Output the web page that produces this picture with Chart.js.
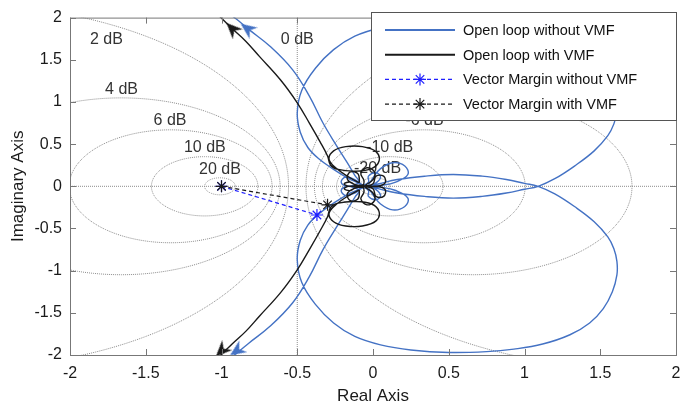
<!DOCTYPE html>
<html>
<head>
<meta charset="utf-8">
<script src="https://cdn.jsdelivr.net/npm/chart.js@4.4.1/dist/chart.umd.min.js"></script>
<style>
  html, body { margin: 0; padding: 0; background: #fff; }
  #wrap { width: 694px; height: 408px; }
</style>
</head>
<body>
<div id="wrap"><canvas id="nyq" width="694" height="408"></canvas></div>
<script>
// Open loop without VMF, one frequency half (the other half is its mirror image)
const noVmfRe = [-0.99, -0.90, -0.82, -0.68, -0.53, -0.42, -0.33, -0.24, -0.17, -0.12, -0.09,
  -0.12, -0.17, -0.21, -0.18, -0.12, -0.07,
  -0.03, -0.03, 0.02, 0.05, 0.02, -0.03,
  0.00, 0.05, 0.13, 0.21, 0.23, 0.15, 0.05, -0.03,
  0.04, 0.16, 0.34, 0.53, 0.72, 0.88, 1.00, 1.09, 1.20, 1.33, 1.46, 1.55, 1.59, 1.61, 1.61, 1.58, 1.52, 1.43, 1.30, 1.12, 0.93, 0.75, 0.50, 0.25, 0.05,
  -0.12, -0.26, -0.38, -0.47, -0.50, -0.48, -0.43, -0.36, -0.26, -0.16, -0.08];
const noVmfIm = [2.10, 1.98, 1.86, 1.66, 1.38, 1.07, 0.75, 0.48, 0.28, 0.13, 0.05,
  0.02, 0.00, 0.05, 0.11, 0.08, 0.02,
  0.05, 0.12, 0.16, 0.11, 0.04, 0.00,
  0.10, 0.21, 0.28, 0.24, 0.14, 0.05, 0.01, 0.00,
  -0.03, -0.08, -0.12, -0.14, -0.12, -0.08, -0.035, 0.00, 0.09, 0.24, 0.42, 0.60, 0.74, 0.89, 1.05, 1.25, 1.45, 1.62, 1.76, 1.87, 1.93, 1.96, 1.97, 1.94, 1.88,
  1.78, 1.62, 1.40, 1.14, 0.87, 0.64, 0.46, 0.33, 0.20, 0.09, 0.02];

// Open loop with VMF, same half
const vmfRe = [-1.06, -0.93, -0.84, -0.75, -0.61, -0.50, -0.42, -0.35, -0.30, -0.28, -0.23, -0.12, -0.01, 0.04, 0.02, -0.07, -0.18, -0.26, -0.29, -0.24, -0.16, -0.10,
  -0.09, -0.10, -0.15, -0.17, -0.13, -0.07,
  -0.06, -0.08, -0.04, 0.01, 0.00, -0.05,
  0.00, 0.02, 0.07, 0.08, 0.03, -0.04,
  -0.11, -0.15, -0.19, -0.16, -0.10, -0.06];
const vmfIm = [2.10, 1.87, 1.72, 1.54, 1.26, 0.99, 0.75, 0.53, 0.36, 0.25, 0.20, 0.18, 0.21, 0.30, 0.41, 0.47, 0.47, 0.42, 0.32, 0.21, 0.11, 0.05,
  0.05, 0.15, 0.17, 0.09, 0.03, 0.01,
  0.07, 0.15, 0.22, 0.17, 0.08, 0.01,
  0.03, 0.12, 0.12, 0.04, 0.00, 0.005,
  0.01, 0.05, 0.03, 0.00, 0.01, 0.01];

// vector margin: from -1 to the closest point of each locus
const marginNoVmfRe = [-1, -0.37];
const marginNoVmfIm = [0, -0.34];
const marginVmfRe = [-1, -0.30];
const marginVmfIm = [0, -0.22];

// direction arrows on the low-frequency branches
const arrowNoVmfRe = [-0.83, -0.90];
const arrowNoVmfIm = [1.87, -1.95];
const arrowNoVmfAngle = [306, 236];
const arrowVmfRe = [-0.93, -1.00];
const arrowVmfIm = [1.87, -1.95];
const arrowVmfAngle = [315, 225];

// closed-loop gain contours (dB) and where their labels sit
const mLevels = [20, 10, 6, 4, 2, -2, -4, -6, -10, -20];
const mLabels = ['20 dB', '10 dB', '6 dB', '4 dB', '2 dB', '0 dB', '-6 dB', '-10 dB', '-20 dB'];
const mLabelRe = [-1.01, -1.11, -1.34, -1.66, -1.76, -0.50, 0.34, 0.11, 0.03];
const mLabelIm = [0.20, 0.46, 0.78, 1.15, 1.74, 1.74, 0.78, 0.46, 0.21];

const tickValues = [-2, -1.5, -1, -0.5, 0, 0.5, 1, 1.5, 2];

const FONT = "'Liberation Sans', Arial, Helvetica, sans-serif";
const BLUE = '#4472c4';
const BLACK = '#1a1a1a';
const VM_BLUE = '#1f1fff';
const GRID = '#8c8c8c';

const toPts = (re, im) => re.map((v, i) => ({ x: v, y: im[i] }));
// whole locus = the half plus its complex conjugate traced back
function fullLocus(re, im) {
  const half = toPts(re, im);
  const other = half.slice().reverse().map(p => ({ x: p.x, y: -p.y }));
  return half.concat(other);
}

function mCircle(db) {
  const m = Math.pow(10, db / 20);
  const c = -m * m / (m * m - 1);
  const r = Math.abs(m / (m * m - 1));
  const pts = [];
  for (let k = 0; k <= 360; k += 2) {
    const t = k * Math.PI / 180;
    pts.push({ x: c + r * Math.cos(t), y: r * Math.sin(t) });
  }
  return pts;
}

// arrowhead sprite pointing up, rotated per point by Chart.js
function arrowHead(color) {
  const c = document.createElement('canvas');
  c.width = 18; c.height = 18;
  const g = c.getContext('2d');
  g.fillStyle = color;
  g.beginPath();
  g.moveTo(9, 1);
  g.lineTo(16, 17);
  g.lineTo(9, 12);
  g.lineTo(2, 17);
  g.closePath();
  g.fill();
  return c;
}

const dotted = { showLine: true, borderColor: GRID, borderWidth: 1, borderDash: [1, 1], pointRadius: 0, tension: 0, order: 10 };
const gridSets = mLevels.map(db => Object.assign({ data: mCircle(db) }, dotted));
gridSets.push(Object.assign({ data: [{ x: -0.5, y: -2 }, { x: -0.5, y: 2 }] }, dotted));
gridSets.push(Object.assign({ data: [{ x: -2, y: 0 }, { x: 2, y: 0 }] }, dotted));

const datasets = [
  { label: 'Open loop without VMF', data: fullLocus(noVmfRe, noVmfIm), showLine: true,
    borderColor: BLUE, borderWidth: 1.4, pointRadius: 0, tension: 0.4, order: 3 },
  { label: 'Open loop with VMF', data: fullLocus(vmfRe, vmfIm), showLine: true,
    borderColor: BLACK, borderWidth: 1.4, pointRadius: 0, tension: 0.4, order: 2 },
  { label: 'Vector Margin without VMF', data: toPts(marginNoVmfRe, marginNoVmfIm), showLine: true,
    borderColor: VM_BLUE, borderWidth: 1.2, borderDash: [4, 3], pointStyle: 'star', pointRadius: 6,
    pointBorderColor: VM_BLUE, pointBorderWidth: 1.2, order: 1 },
  { label: 'Vector Margin with VMF', data: toPts(marginVmfRe, marginVmfIm), showLine: true,
    borderColor: BLACK, borderWidth: 1.2, borderDash: [4, 3], pointStyle: 'star', pointRadius: 6,
    pointBorderColor: BLACK, pointBorderWidth: 1.2, order: 0 },
  { data: toPts(arrowNoVmfRe, arrowNoVmfIm), showLine: false, pointStyle: arrowHead(BLUE), pointRadius: 9,
    pointRotation: arrowNoVmfAngle, order: 1 },
  { data: toPts(arrowVmfRe, arrowVmfIm), showLine: false, pointStyle: arrowHead(BLACK), pointRadius: 9,
    pointRotation: arrowVmfAngle, order: 0 }
].concat(gridSets);

const legendRows = [
  { text: 'Open loop without VMF', color: BLUE, dash: [], star: false, width: 2 },
  { text: 'Open loop with VMF', color: BLACK, dash: [], star: false, width: 2 },
  { text: 'Vector Margin without VMF', color: VM_BLUE, dash: [4, 3], star: true, width: 1.2 },
  { text: 'Vector Margin with VMF', color: BLACK, dash: [4, 3], star: true, width: 1.2 }
];

const framePlugin = {
  id: 'frame',
  beforeDatasetsDraw(chart) {
    const { ctx, scales: { x, y } } = chart;
    ctx.save();
    ctx.font = '16px ' + FONT;
    ctx.fillStyle = '#333';
    ctx.textAlign = 'center';
    ctx.textBaseline = 'middle';
    mLabels.forEach((t, i) => {
      ctx.fillText(t, x.getPixelForValue(mLabelRe[i]), y.getPixelForValue(mLabelIm[i]));
    });
    ctx.restore();
  },
  afterDraw(chart) {
    const { ctx, chartArea: a, scales: { x, y } } = chart;
    ctx.save();
    // axes box with inward ticks on every side
    ctx.strokeStyle = '#777';
    ctx.lineWidth = 1;
    ctx.strokeRect(a.left + 0.5, a.top + 0.5, a.right - a.left, a.bottom - a.top);
    ctx.beginPath();
    tickValues.forEach(v => {
      const px = Math.round(x.getPixelForValue(v)) + 0.5;
      ctx.moveTo(px, a.bottom); ctx.lineTo(px, a.bottom - 6);
      ctx.moveTo(px, a.top); ctx.lineTo(px, a.top + 6);
      const py = Math.round(y.getPixelForValue(v)) + 0.5;
      ctx.moveTo(a.left, py); ctx.lineTo(a.left + 6, py);
      ctx.moveTo(a.right, py); ctx.lineTo(a.right - 6, py);
    });
    ctx.stroke();

    // axis titles
    ctx.fillStyle = '#1a1a1a';
    ctx.font = '17px ' + FONT;
    ctx.textAlign = 'center';
    ctx.textBaseline = 'middle';
    ctx.fillText('Real Axis', (a.left + a.right) / 2, 396);
    ctx.save();
    ctx.translate(18, (a.top + a.bottom) / 2);
    ctx.rotate(-Math.PI / 2);
    ctx.fillText('Imaginary Axis', 0, 0);
    ctx.restore();

    // legend
    const lx = 371, ly = 12, lw = 305, lh = 108;
    ctx.fillStyle = '#fff';
    ctx.fillRect(lx, ly, lw, lh);
    ctx.strokeStyle = '#555';
    ctx.strokeRect(lx + 0.5, ly + 0.5, lw, lh);
    ctx.font = '14.5px ' + FONT;
    ctx.textAlign = 'left';
    legendRows.forEach((row, i) => {
      const ry = ly + 18 + i * 24.7;
      ctx.strokeStyle = row.color;
      ctx.lineWidth = row.width;
      ctx.setLineDash(row.dash);
      ctx.beginPath();
      ctx.moveTo(385, ry);
      ctx.lineTo(455, ry);
      ctx.stroke();
      ctx.setLineDash([]);
      if (row.star) {
        Chart.helpers.drawPoint(ctx, { pointStyle: 'star', radius: 6, rotation: 0, borderWidth: 1.2 }, 420, ry);
      }
      ctx.fillStyle = '#111';
      ctx.fillText(row.text, 463, ry + 1);
    });
    ctx.restore();
  }
};

new Chart(document.getElementById('nyq'), {
  type: 'scatter',
  data: { datasets },
  options: {
    responsive: false,
    animation: false,
    devicePixelRatio: 1,
    layout: { padding: { top: 14, right: 18, left: 0, bottom: 0 } },
    elements: { line: { capBezierPoints: false } },
    plugins: { legend: { display: false }, tooltip: { enabled: false } },
    scales: {
      x: {
        type: 'linear', min: -2, max: 2,
        ticks: { stepSize: 0.5, padding: 9, maxRotation: 0, color: '#1a1a1a', font: { family: FONT, size: 16 },
          callback: v => String(v) },
        grid: { display: false, drawTicks: false },
        border: { display: false },
        afterFit(s) { s.height = 53; }
      },
      y: {
        type: 'linear', min: -2, max: 2,
        ticks: { stepSize: 0.5, padding: 8, color: '#1a1a1a', font: { family: FONT, size: 16 },
          callback: v => String(v) },
        grid: { display: false, drawTicks: false },
        border: { display: false },
        afterFit(s) { s.width = 70; }
      }
    }
  },
  plugins: [framePlugin]
});
</script>
</body>
</html>
